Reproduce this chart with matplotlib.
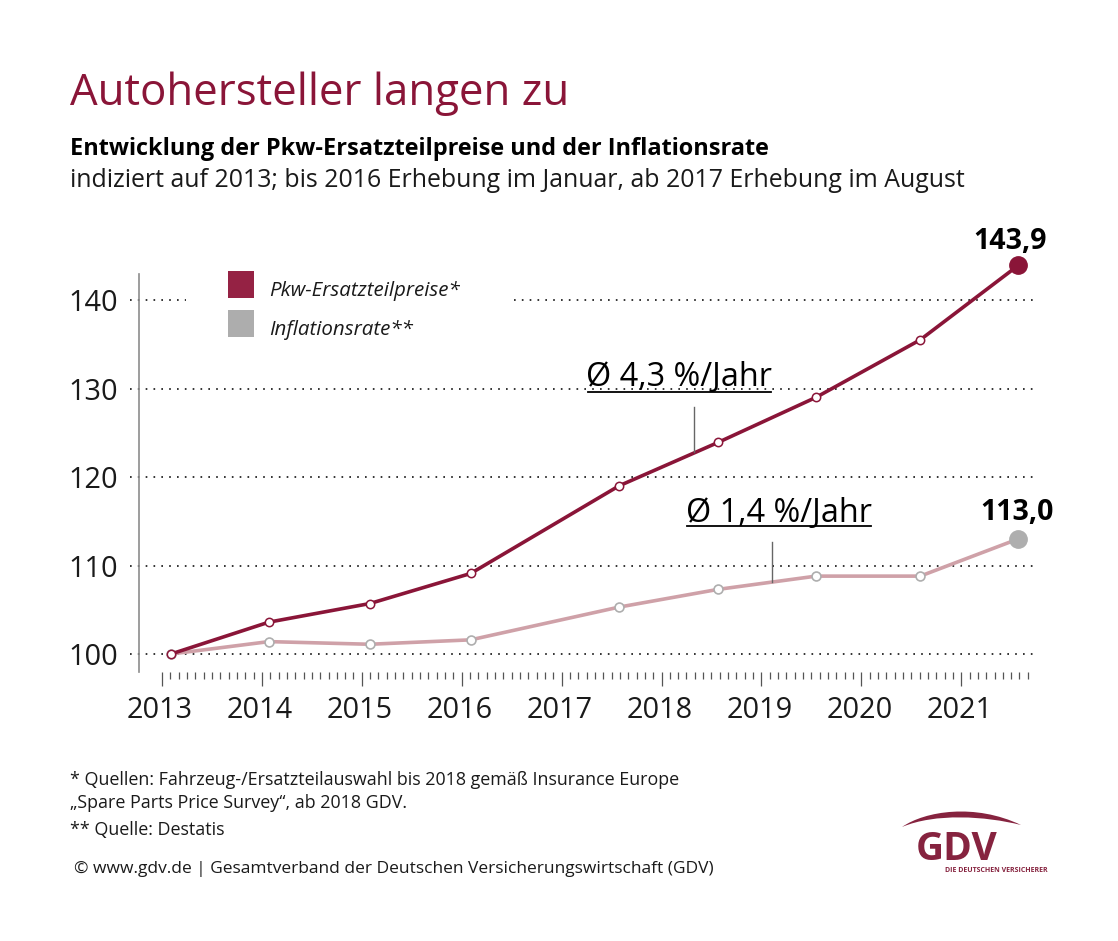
import matplotlib
matplotlib.use('Agg')
import matplotlib.pyplot as plt
from matplotlib.patches import Patch, PathPatch
from matplotlib.path import Path
from matplotlib.ticker import FixedLocator
from matplotlib.transforms import ScaledTranslation

plt.rcParams['font.family'] = ['Open Sans', 'DejaVu Sans']

# decimal years: January up to 2016, August from 2017
years_pos = [2013.09, 2014.07, 2015.08, 2016.09, 2017.575, 2018.565, 2019.547, 2020.59, 2021.57]
ersatzteile = [100, 103.6, 105.7, 109.1, 119.0, 123.9, 129.0, 135.5, 143.9]
inflation = [100, 101.4, 101.1, 101.6, 105.3, 107.3, 108.8, 108.8, 113.0]
year_labels = [2013, 2014, 2015, 2016, 2017, 2018, 2019, 2020, 2021]
y_ticks = [100, 110, 120, 130, 140]

W, H = 1118, 941
RED = '#8a1538'
PINK = '#cfa1a8'
GREY = '#aeaeae'
TXT = '#1a1a1a'
LOGO = '#86233f'

fig = plt.figure(figsize=(W / 100, H / 100), dpi=100)

# main axes, placed by pixel box (left 139, right 1033, top 274, bottom 672)
ax = fig.add_axes([139 / W, 1 - 672 / H, (1033 - 139) / W, (672 - 274) / H])
px_year = 99.9
px_unit = 8.85
ax.set_xlim(2013 - 23 / px_year, 2013 + (1033 - 162) / px_year)
ax.set_ylim(100 - 18 / px_unit, 100 + 380 / px_unit)

for s in ['top', 'right', 'bottom']:
    ax.spines[s].set_visible(False)
ax.spines['left'].set_color('#8c8c8c')
ax.spines['left'].set_linewidth(1.2)

# dotted grid, the 140 line leaves room for the legend
x_left = 2013 - 32 / px_year
x_right = ax.get_xlim()[1]
x_gap0 = 2013 + (186 - 162) / px_year
x_gap1 = 2013 + (514 - 162) / px_year
dots = dict(color='#111111', lw=1.2, ls=(0, (1, 3.7)), clip_on=False, zorder=1)
for v in y_ticks:
    if v == 140:
        ax.plot([x_left, x_gap0], [v, v], **dots)
        ax.plot([x_gap1, x_right], [v, v], **dots)
    else:
        ax.plot([x_left, x_right], [v, v], **dots)

ax.plot(years_pos, inflation, color=PINK, lw=2.6, marker='o', ms=6.4, mfc='white',
        mec=GREY, mew=1.2, zorder=3, clip_on=False)
ax.plot(years_pos, ersatzteile, color=RED, lw=2.6, marker='o', ms=6.0, mfc='white',
        mec=RED, mew=1.1, zorder=4, clip_on=False)
ax.plot(years_pos[-1], inflation[-1], 'o', color=GREY, ms=12.5, zorder=5, clip_on=False)
ax.plot(years_pos[-1], ersatzteile[-1], 'o', color=RED, ms=12.5, zorder=5, clip_on=False)

ax.set_xticks(year_labels)
ax.set_xticklabels([str(y) for y in year_labels], fontsize=20.8, color=TXT)
ax.xaxis.set_minor_locator(FixedLocator([2013 + i / 12 for i in range(105)]))
ax.tick_params(axis='x', which='major', length=10, width=0.9, color='#555555', pad=7)
ax.tick_params(axis='x', which='minor', length=5, width=0.9, color='#555555')
ax.set_yticks(y_ticks)
ax.set_yticklabels([str(v) for v in y_ticks], fontsize=20.8, color=TXT)
ax.tick_params(axis='y', length=0, pad=15)
shift = ScaledTranslation(-2 / 100, 0, fig.dpi_scale_trans)
for lab in ax.get_xticklabels():
    lab.set_transform(lab.get_transform() + shift)

# end values
ax.text(years_pos[-1] - 0.08, ersatzteile[-1] + 1.05, '143,9', fontsize=20.5, fontweight='bold',
        color='black', ha='center', va='bottom')
ax.text(years_pos[-1] - 0.01, inflation[-1] + 1.3, '113,0', fontsize=20.5, fontweight='bold',
        color='black', ha='center', va='bottom')

# legend
handles = [Patch(facecolor='#952244', label='Pkw-Ersatzteilpreise*'),
           Patch(facecolor='#adadad', label='Inflationsrate**')]
leg = fig.legend(handles=handles, loc='upper left', bbox_to_anchor=(220 / W, 1 - 263 / H),
                 frameon=False, fontsize=14.75, handlelength=1.27, handleheight=1.6,
                 handletextpad=0.72, labelspacing=0.62, borderpad=0.4, borderaxespad=0)
for t in leg.get_texts():
    t.set_fontstyle('italic')
    t.set_color(TXT)
    t.set_y(-5)

# overlay in pixel coordinates for texts and logo
ov = fig.add_axes([0, 0, 1, 1], facecolor='none')
ov.set_xlim(0, W)
ov.set_ylim(H, 0)
ov.axis('off')

ov.text(70, 94, 'Autohersteller langen zu', fontsize=31.5, color=RED, va='center')
ov.text(70, 149, 'Entwicklung der Pkw-Ersatzteilpreise und der Inflationsrate', fontsize=16.9,
        fontweight='bold', color='black', va='center')
ov.text(70, 180, 'indiziert auf 2013; bis 2016 Erhebung im Januar, ab 2017 Erhebung im August',
        fontsize=17.9, color=TXT, va='center')

# growth annotations
ov.text(679, 377, 'Ø 4,3 %/Jahr', fontsize=23.3, color='black', ha='center', va='center')
ov.plot([588, 771], [392, 392], color='black', lw=1.3)
ov.plot([694, 694], [407, 452], color='#666666', lw=1)
ov.text(779, 513, 'Ø 1,4 %/Jahr', fontsize=23.3, color='black', ha='center', va='center')
ov.plot([687, 871], [526, 526], color='black', lw=1.3)
ov.plot([772, 772], [542, 582], color='#666666', lw=1)

# footnotes
ov.text(70, 780, '* Quellen: Fahrzeug-/Ersatzteilauswahl bis 2018 gemäß Insurance Europe',
        fontsize=12.85, color=TXT, va='center')
ov.text(70, 803, '„Spare Parts Price Survey“, ab 2018 GDV.', fontsize=12.85, color=TXT, va='center')
ov.text(70, 830, '** Quelle: Destatis', fontsize=12.85, color=TXT, va='center')
ov.text(74, 869, '© www.gdv.de | Gesamtverband der Deutschen Versicherungswirtschaft (GDV)',
        fontsize=12.5, color=TXT, va='center')

# GDV logo
arc = Path([(902, 827), (925, 811), (975, 803), (1021, 825), (985, 816), (935, 813), (902, 827)],
           [Path.MOVETO, Path.CURVE4, Path.CURVE4, Path.CURVE4, Path.CURVE4, Path.CURVE4, Path.CURVE4])
ov.add_patch(PathPatch(arc, facecolor=LOGO, edgecolor='none'))
ov.text(957, 849, 'GDV', fontsize=28, fontweight='bold', color=LOGO, ha='center', va='center')
ov.text(996.5, 871, 'DIE DEUTSCHEN VERSICHERER', fontsize=5.0, fontweight='bold', color=LOGO,
        ha='center', va='center')

fig.savefig('out.png', dpi=100, facecolor='white')
